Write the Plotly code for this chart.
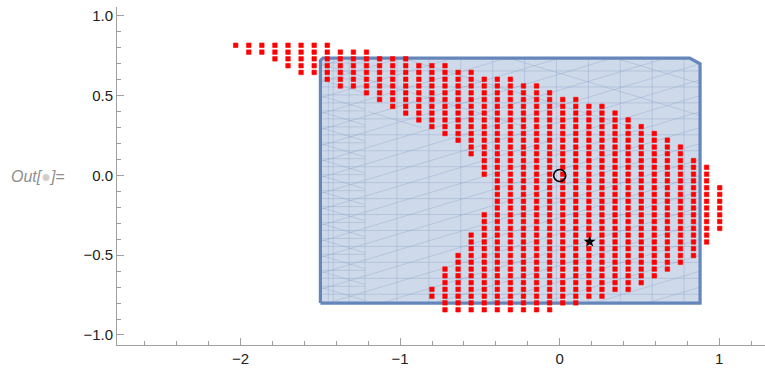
import numpy as np
import plotly.graph_objects as go

# ---- data ----
col_x = [-2.031, -1.949, -1.867, -1.785, -1.703, -1.621, -1.539, -1.457, -1.375, -1.293,
         -1.211, -1.129, -1.047, -0.965, -0.883, -0.801, -0.719, -0.637, -0.555, -0.473,
         -0.391, -0.309, -0.227, -0.145, -0.063, 0.019, 0.101, 0.183, 0.265, 0.347,
         0.429, 0.511, 0.593, 0.675, 0.757, 0.839, 0.921, 1.003]
row_y = [0.816, 0.773, 0.731, 0.688, 0.646, 0.603, 0.561, 0.518, 0.476, 0.433,
         0.391, 0.348, 0.306, 0.263, 0.221, 0.178, 0.136, 0.093, 0.051, 0.008,
         -0.034, -0.077, -0.119, -0.162, -0.204, -0.247, -0.289, -0.332, -0.374, -0.417,
         -0.459, -0.502, -0.544, -0.587, -0.629, -0.672, -0.714, -0.757, -0.799, -0.842]
# for each column: (first row, last row) runs of points that are present
col_runs = [
    [(0, 0)], [(0, 1)], [(0, 1)], [(0, 2)], [(0, 3)], [(0, 4)], [(0, 4)], [(0, 5)],
    [(1, 6)], [(1, 6)], [(1, 7)], [(2, 8)], [(2, 9)], [(2, 10)], [(3, 11)],
    [(3, 12), (36, 37)], [(3, 13), (33, 39)], [(4, 14), (31, 39)], [(4, 16), (28, 39)],
    [(5, 19), (25, 39)], [(5, 39)], [(5, 39)], [(6, 39)], [(6, 39)], [(7, 39)],
    [(8, 38)], [(8, 38)], [(9, 37)], [(9, 37)], [(10, 36)], [(11, 36)], [(12, 35)],
    [(13, 34)], [(14, 33)], [(15, 32)], [(17, 31)], [(18, 29)], [(21, 27)],
]
region_x = [-1.50, -1.50, -1.485, 0.815, 0.88, 0.88, -1.50]
region_y = [-0.80, 0.72, 0.735, 0.735, 0.70, -0.80, -0.80]
circle_pt = (0.0, 0.0)
star_pt = (0.188, -0.415)

# ---- build point lists ----
px, py = [], []
for cx, runs in zip(col_x, col_runs):
    for a, b in runs:
        for j in range(a, b + 1):
            px.append(cx)
            py.append(row_y[j])

# ---- decorative mesh inside the region ----
xmin, xmax = min(region_x), max(region_x)
ymin, ymax = min(region_y), max(region_y)

def clip(m, c, x0, x1, y0, y1):
    if m == 0:
        return ((x0, c), (x1, c)) if y0 <= c <= y1 else None
    xa, xb = (y0 - c) / m, (y1 - c) / m
    lo, hi = max(x0, min(xa, xb)), min(x1, max(xa, xb))
    if lo >= hi:
        return None
    return ((lo, m * lo + c), (hi, m * hi + c))

mx, my = [], []
def add(seg):
    if seg:
        mx.extend([seg[0][0], seg[1][0], None])
        my.extend([seg[0][1], seg[1][1], None])

for yy in np.arange(ymax - 0.08, ymin, -0.1):
    add(clip(0, yy, xmin, xmax - 0.005, ymin, ymax))
for yy in np.arange(ymax - 0.03, ymin, -0.1):
    add(clip(0, yy, xmin, xmin + 0.28, ymin, ymax))
for xx in [xmin + 0.05, xmin + 0.08, xmin + 0.18, xmin + 0.28] + list(np.arange(xmin + 0.48, xmax, 0.2)):
    mx.extend([xx, xx, None]); my.extend([ymin, ymax, None])
for c in np.arange(ymin - 0.3 * xmax, ymax - 0.3 * xmin, 0.1):
    add(clip(0.3, c, xmin, xmax, ymin, ymax))
for c in np.arange(ymin + 0.3 * xmin, ymax + 0.3 * (xmin + 0.28), 0.1):
    add(clip(-0.3, c, xmin, xmin + 0.28, ymin, ymax))
for c in np.arange(ymin + 0.3 * (xmin + 0.3), ymax + 0.3 * xmax, 0.2):
    add(clip(-0.3, c, xmin + 0.3, xmax, ymin + 1.1, ymax))

fig = go.Figure()
fig.add_trace(go.Scatter(x=region_x, y=region_y, mode="lines", fill="toself",
                         fillcolor="rgb(206,217,233)", line=dict(color="rgba(0,0,0,0)", width=0),
                         hoverinfo="skip", showlegend=False))
fig.add_trace(go.Scatter(x=mx, y=my, mode="lines",
                         line=dict(color="rgba(105,135,190,0.30)", width=0.8),
                         hoverinfo="skip", showlegend=False))
fig.add_trace(go.Scatter(x=region_x, y=region_y, mode="lines",
                         line=dict(color="#6586bb", width=3.2),
                         hoverinfo="skip", showlegend=False))
fig.add_trace(go.Scatter(x=px, y=py, mode="markers",
                         marker=dict(symbol="square", size=4.5, color="#ff0000",
                                     line=dict(color="#ff0000", width=0.6)),
                         showlegend=False))
fig.add_trace(go.Scatter(x=[circle_pt[0]], y=[circle_pt[1]], mode="markers",
                         marker=dict(symbol="circle-open", size=12, color="black",
                                     line=dict(color="black", width=1.6)),
                         showlegend=False))
fig.add_trace(go.Scatter(x=[star_pt[0]], y=[star_pt[1]], mode="markers",
                         marker=dict(symbol="star", size=9, color="black"),
                         showlegend=False))

axis_common = dict(showgrid=False, zeroline=False, showline=True, linecolor="#a0a0a0",
                   linewidth=1, ticks="inside", tickcolor="#a0a0a0", ticklen=7, tickwidth=1,
                   tickfont=dict(family="Liberation Sans", size=15, color="#222222"))
fig.update_xaxes(range=[-2.775, 1.287], tick0=0, dtick=1, **axis_common,
                 minor=dict(ticks="inside", dtick=0.2, tick0=0, ticklen=4, tickcolor="#a0a0a0", showgrid=False))
fig.update_yaxes(range=[-1.063, 1.056], tick0=0, dtick=0.5, tickformat=".1f", **axis_common,
                 minor=dict(ticks="inside", dtick=0.1, tick0=0, ticklen=4, tickcolor="#a0a0a0", showgrid=False))

fig.add_annotation(xref="paper", yref="paper", x=-0.166, y=0.5, xanchor="left", yanchor="middle",
                   showarrow=False,
                   text="<i>Out[</i><span style='color:#cfcfcf'>●</span><i>]=</i>",
                   font=dict(family="Liberation Sans", size=16, color="#8f8f8f"))

fig.update_layout(width=765, height=369, margin=dict(l=117, r=0, t=7, b=24),
                  plot_bgcolor="white", paper_bgcolor="white", showlegend=False)
fig.write_html("out.html", config={"displayModeBar": False},
               post_script="document.body.style.margin='0';document.body.style.overflow='hidden';")
